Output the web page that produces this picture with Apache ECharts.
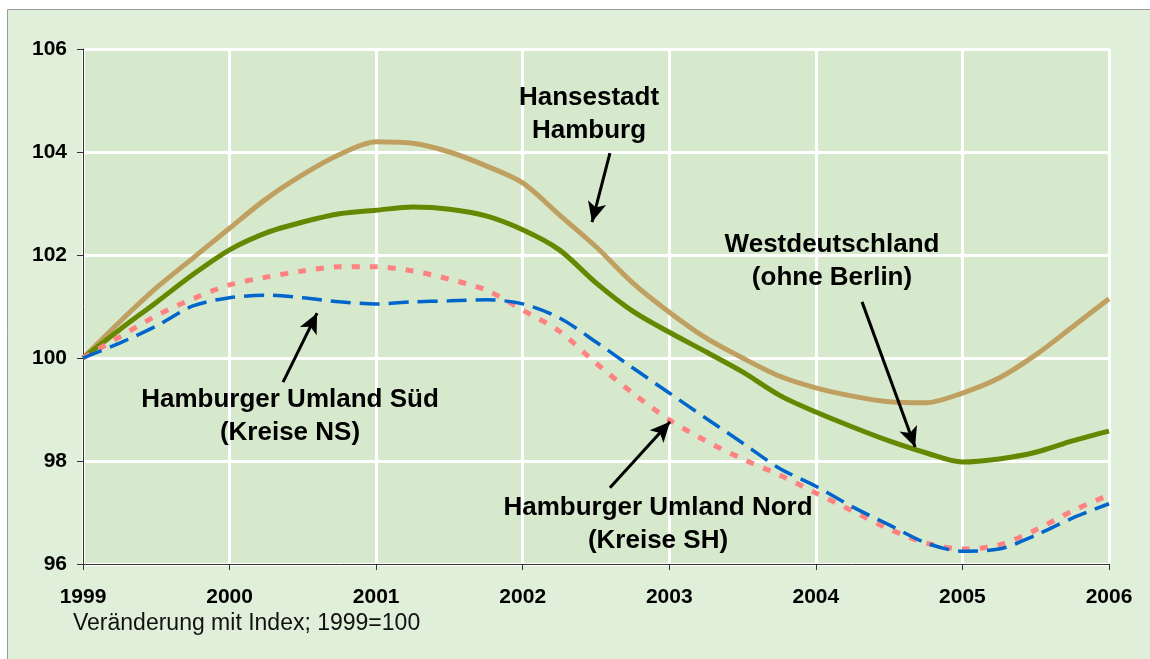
<!DOCTYPE html>
<html>
<head>
<meta charset="utf-8">
<script src="https://cdn.jsdelivr.net/npm/echarts@6/dist/echarts.min.js"></script>
<style>
  html, body { margin: 0; padding: 0; background: #fff; }
  #main { width: 1150px; height: 659px; }
</style>
</head>
<body>
<div id="main"></div>
<script>
// Quartalswerte, Index 1999 = 100
const quarters = [1999, 1999.25, 1999.5, 1999.75, 2000, 2000.25, 2000.5, 2000.75,
  2001, 2001.25, 2001.5, 2001.75, 2002, 2002.25, 2002.5, 2002.75,
  2003, 2003.25, 2003.5, 2003.75, 2004, 2004.25, 2004.5, 2004.75,
  2005, 2005.25, 2005.5, 2005.75, 2006]

const hamburg = [100, 100.7, 101.36, 101.94, 102.52, 103.09, 103.56, 103.95,
  104.2, 104.17, 104.0, 103.73, 103.4, 102.78, 102.16, 101.46,
  100.89, 100.39, 100.0, 99.65, 99.42, 99.26, 99.15, 99.13,
  99.32, 99.61, 100.06, 100.6, 101.15]

const westdeutschland = [100, 100.55, 101.08, 101.62, 102.1, 102.43, 102.64, 102.8,
  102.87, 102.93, 102.89, 102.76, 102.49, 102.1, 101.46, 100.91,
  100.5, 100.12, 99.73, 99.28, 98.95, 98.66, 98.39, 98.16,
  97.98, 98.04, 98.17, 98.39, 98.58]

const umlandNord = [100, 100.41, 100.82, 101.15, 101.42, 101.57, 101.69, 101.77,
  101.77, 101.69, 101.53, 101.32, 100.93, 100.52, 99.9, 99.32,
  98.8, 98.39, 98.04, 97.73, 97.38, 97.03, 96.68, 96.41,
  96.29, 96.37, 96.66, 97.03, 97.34]

const umlandSued = [100, 100.29, 100.62, 101.01, 101.17, 101.22, 101.17, 101.09,
  101.05, 101.09, 101.11, 101.13, 101.05, 100.78, 100.31, 99.81,
  99.32, 98.83, 98.35, 97.86, 97.51, 97.11, 96.76, 96.41,
  96.25, 96.29, 96.56, 96.89, 97.17]

// Pfeile der Beschriftungen (Datenkoordinaten: von -> nach)
const arrows = [
  [[2002.595, 103.98], [2002.473, 102.64]],
  [[2004.315, 101.09], [2004.677, 98.27]],
  [[2000.365, 99.53], [2000.597, 100.87]],
  [[2002.595, 97.48], [2003.005, 98.76]]
]

const pairs = vals => quarters.map((q, i) => [q, vals[i]])

const chart = echarts.init(document.getElementById('main'))

const labelFont = {
  fontFamily: 'Liberation Sans, Arial, sans-serif',
  fontWeight: 'bold',
  fontSize: 26,
  lineHeight: 33,
  fill: '#000',
  textAlign: 'center',
  textVerticalAlign: 'top'
}

chart.setOption({
  animation: false,
  backgroundColor: '#fff',
  graphic: [
    {
      type: 'rect',
      z: -10,
      shape: { x: 7.5, y: 9.5, width: 1160, height: 660 },
      style: { fill: '#dfefd9', stroke: '#9a9a9a', lineWidth: 1 }
    },
    // Beschriftungen liegen ueber dem Gitter
    { type: 'text', z: 100, x: 589, y: 81, style: Object.assign({ text: 'Hansestadt\nHamburg' }, labelFont) },
    { type: 'text', z: 100, x: 832, y: 228, style: Object.assign({ text: 'Westdeutschland\n(ohne Berlin)' }, labelFont) },
    { type: 'text', z: 100, x: 290, y: 383, style: Object.assign({ text: 'Hamburger Umland Süd\n(Kreise NS)' }, labelFont) },
    { type: 'text', z: 100, x: 658, y: 491, style: Object.assign({ text: 'Hamburger Umland Nord\n(Kreise SH)' }, labelFont) },
    {
      type: 'text',
      z: 100,
      x: 73,
      y: 612,
      style: {
        text: 'Veränderung mit Index; 1999=100',
        fontFamily: 'Liberation Sans, Arial, sans-serif',
        fontSize: 23,
        fill: '#111'
      }
    }
  ],
  grid: {
    left: 83,
    right: 41,
    top: 49,
    bottom: 95,
    show: true,
    backgroundColor: '#d6e9cd',
    borderWidth: 0
  },
  xAxis: {
    type: 'value',
    min: 1999,
    max: 2006,
    interval: 1,
    axisLine: { show: true, onZero: false, lineStyle: { color: '#333', width: 1 } },
    axisTick: { show: true, length: 6, lineStyle: { color: '#333' } },
    axisLabel: {
      margin: 23,
      color: '#000',
      formatter: v => String(v),
      fontFamily: 'Liberation Sans, Arial, sans-serif',
      fontWeight: 'bold',
      fontSize: 21
    },
    splitLine: { show: true, lineStyle: { color: '#fff', width: 3 } }
  },
  yAxis: {
    type: 'value',
    min: 96,
    max: 106,
    interval: 2,
    axisLine: { show: true, lineStyle: { color: '#333', width: 1 } },
    axisTick: { show: true, length: 6, lineStyle: { color: '#333' } },
    axisLabel: {
      margin: 16,
      color: '#000',
      fontFamily: 'Liberation Sans, Arial, sans-serif',
      fontWeight: 'bold',
      fontSize: 21
    },
    splitLine: { show: true, lineStyle: { color: '#fff', width: 3 } }
  },
  series: [
    {
      name: 'Hansestadt Hamburg',
      type: 'line',
      data: pairs(hamburg),
      smooth: 0.3,
      showSymbol: false,
      lineStyle: { color: '#c0a060', width: 5 }
    },
    {
      name: 'Westdeutschland (ohne Berlin)',
      type: 'line',
      data: pairs(westdeutschland),
      smooth: 0.3,
      showSymbol: false,
      lineStyle: { color: '#668800', width: 5 }
    },
    {
      name: 'Hamburger Umland Nord (Kreise SH)',
      type: 'line',
      data: pairs(umlandNord),
      smooth: 0.3,
      showSymbol: false,
      lineStyle: { color: '#ff8282', width: 5, type: [8, 10] }
    },
    {
      name: 'Hamburger Umland Süd (Kreise NS)',
      type: 'line',
      data: pairs(umlandSued),
      smooth: 0.3,
      showSymbol: false,
      lineStyle: { color: '#0066cc', width: 3.5, type: [20, 9] },
      // Pfeile
      markLine: {
        silent: true,
        symbol: ['none', 'arrow'],
        symbolSize: [14, 20],
        label: { show: false },
        lineStyle: { color: '#000', width: 3, type: 'solid' },
        data: arrows.map(a => [{ coord: a[0] }, { coord: a[1] }])
      }
    }
  ]
})
</script>
</body>
</html>
